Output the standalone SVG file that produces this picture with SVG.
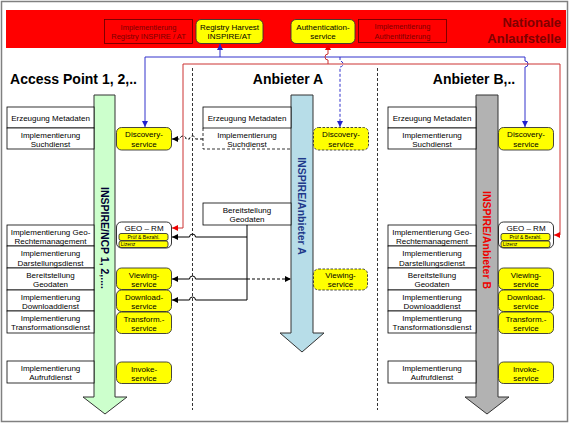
<svg xmlns="http://www.w3.org/2000/svg" width="570" height="424" viewBox="0 0 570 424">
<defs>
<style>
text{font-family:"Liberation Sans",Arial,sans-serif;}
.t{font-size:8px;text-anchor:middle;fill:#000}
.tr{font-size:7.5px;text-anchor:middle;fill:#7a0000}
.b{fill:#fff;stroke:#000;stroke-width:0.8}
.bd{fill:none;stroke:#000;stroke-width:0.8;stroke-dasharray:3,2}
.y{fill:#ffff00;stroke:#333;stroke-width:0.9}
.yd{fill:#ffff00;stroke:#333;stroke-width:0.9;stroke-dasharray:2.5,1.5}
.h{font-size:14px;font-weight:bold;text-anchor:middle;fill:#000}
.v{font-size:10.5px;font-weight:bold;text-anchor:middle}
.tiny{font-size:5px;text-anchor:middle;fill:#000}
.cb{fill:none;stroke:#000;stroke-width:1}
.cbl{fill:none;stroke:#3333cc;stroke-width:1}
.cr{fill:none;stroke:#cc3333;stroke-width:1}
.dash{stroke-dasharray:3,2}
.div{fill:none;stroke:#333;stroke-width:1;stroke-dasharray:3,2}
.arr{stroke:#333;stroke-width:1}
</style>
<marker id="mk" viewBox="0 0 6 6" refX="6" refY="3" markerWidth="6" markerHeight="6" markerUnits="userSpaceOnUse" orient="auto"><path d="M0,0 L6,3 L0,6 z" fill="#000"/></marker>
<marker id="mb" viewBox="0 0 6 6" refX="6" refY="3" markerWidth="6" markerHeight="6" markerUnits="userSpaceOnUse" orient="auto"><path d="M0,0 L6,3 L0,6 z" fill="#2222cc"/></marker>
<marker id="mr" viewBox="0 0 6 6" refX="6" refY="3" markerWidth="6" markerHeight="6" markerUnits="userSpaceOnUse" orient="auto"><path d="M0,0 L6,3 L0,6 z" fill="#ee0000"/></marker>
</defs>
<rect x="0" y="0" width="570" height="424" fill="#fff"/>
<rect x="1.5" y="1.5" width="566" height="420" fill="none" stroke="#808080" stroke-width="1.5"/>

<g id="nationale">
<rect x="6" y="10" width="560" height="38" fill="#ff0000"/>
<text x="561" y="27" font-size="13" font-weight="bold" text-anchor="end" fill="#800000">Nationale</text>
<text x="561" y="43" font-size="13" font-weight="bold" text-anchor="end" fill="#800000">Anlaufstelle</text>
</g>
<g id="impl-registry">
<rect x="104.5" y="19.5" width="88" height="24" fill="none" stroke="#600000" stroke-width="0.8"/>
<text class="tr" x="148.5" y="29.5">Implementierung</text>
<text class="tr" x="148.5" y="39">Registry INSPIRE / AT</text>
</g>
<g id="registry-harvest">
<rect class="y" x="196" y="19.5" width="67" height="24" rx="5"/>
<text class="t" x="229.5" y="29.5">Registry Harvest</text>
<text class="t" x="229.5" y="39">INSPIRE/AT</text>
</g>
<g id="authentication">
<rect class="y" x="291" y="19.5" width="64" height="24" rx="5"/>
<text class="t" x="323" y="29.5">Authentication-</text>
<text class="t" x="323" y="39">service</text>
</g>
<g id="impl-auth">
<rect x="358.5" y="19.5" width="88" height="23" fill="none" stroke="#600000" stroke-width="0.8"/>
<text class="tr" x="402.5" y="29">Implementierung</text>
<text class="tr" x="402.5" y="38.5">Authentifizierung</text>
</g>

<g id="dividers">
<line class="div" x1="192.5" y1="68" x2="192.5" y2="410"/>
<line class="div" x1="377.5" y1="68" x2="377.5" y2="410"/>
</g>

<!-- Access Point column -->
<g id="access-point">
<text class="h" x="73.5" y="84">Access Point 1, 2,..</text>
<polygon class="arr" fill="#ccffcc" points="94,95 115,95 115,397 127,397 105,414 83,397 94,397"/>
<text class="v" fill="#000033" transform="translate(105,238) rotate(90)" dy="0.35em">INSPIRE/NCP 1, 2,....</text>
</g>
<g id="ap-boxes">
<rect class="b" x="7" y="107" width="87" height="21"/><text class="t" x="50.5" y="121">Erzeugung Metadaten</text>
<rect class="b" x="7" y="128" width="87" height="21"/><text class="t" x="50.5" y="137.5">Implementierung</text><text class="t" x="50.5" y="147">Suchdienst</text>
<rect class="b" x="7" y="225" width="87" height="21"/><text class="t" x="50.5" y="234.5">Implementierung Geo-</text><text class="t" x="50.5" y="244">Rechtemanagement</text>
<rect class="b" x="7" y="246" width="87" height="22"/><text class="t" x="50.5" y="256">Implementierung</text><text class="t" x="50.5" y="265.5">Darstellungsdienst</text>
<rect class="b" x="7" y="268" width="87" height="22"/><text class="t" x="50.5" y="277.5">Bereitstellung</text><text class="t" x="50.5" y="287">Geodaten</text>
<rect class="b" x="7" y="290" width="87" height="21"/><text class="t" x="50.5" y="299.5">Implementierung</text><text class="t" x="50.5" y="309">Downloaddienst</text>
<rect class="b" x="7" y="311" width="87" height="22"/><text class="t" x="50.5" y="320.5">Implementierung</text><text class="t" x="50.5" y="330">Transformationsdienst</text>
<rect class="b" x="7" y="361" width="87" height="22"/><text class="t" x="50.5" y="370.5">Implementierung</text><text class="t" x="50.5" y="380">Aufrufdienst</text>
</g>
<g id="ap-services">
<rect class="y" x="116.5" y="127.5" width="55" height="22.5" rx="5"/><text class="t" x="144" y="137">Discovery-</text><text class="t" x="144" y="146.5">service</text>
<rect class="b" x="116.5" y="222" width="55" height="26" rx="5"/><text class="t" x="144" y="231">GEO – RM</text>
<rect class="y" x="119" y="233.5" width="49" height="7" rx="2" stroke-width="0.6"/><text class="tiny" x="143.5" y="239">Prüf &amp; Bezahl.</text>
<rect class="y" x="119" y="241" width="49" height="6.5" rx="2" stroke-width="0.6"/><text class="tiny" x="128" y="246">Lizenz</text>
<rect class="y" x="116.5" y="268" width="55" height="21.5" rx="5"/><text class="t" x="144" y="277.5">Viewing-</text><text class="t" x="144" y="286.5">service</text>
<rect class="y" x="116.5" y="290" width="55" height="21.5" rx="5"/><text class="t" x="144" y="299.5">Download-</text><text class="t" x="144" y="308.5">service</text>
<rect class="y" x="116.5" y="312" width="55" height="21.5" rx="5"/><text class="t" x="144" y="321.5">Transform.-</text><text class="t" x="144" y="330.5">service</text>
<rect class="y" x="116.5" y="362" width="55" height="21.5" rx="5"/><text class="t" x="144" y="371.5">Invoke-</text><text class="t" x="144" y="380.5">service</text>
</g>

<!-- Anbieter A column -->
<g id="anbieter-a">
<text class="h" x="288" y="84">Anbieter A</text>
<polygon class="arr" fill="#b7dde8" points="291,95 313,95 313,333 324,333 302,352 280,333 291,333"/>
<text class="v" fill="#1f3a8a" transform="translate(302,206) rotate(90)" dy="0.35em">INSPIRE/Anbieter A</text>
</g>
<g id="a-boxes">
<rect class="b" x="203" y="107" width="88" height="21"/><text class="t" x="247" y="121">Erzeugung Metadaten</text>
<path class="bd" d="M203,128 V149 H291"/><text class="t" x="247" y="137.5">Implementierung</text><text class="t" x="247" y="147">Suchdienst</text>
<rect class="b" x="203" y="203" width="88" height="22"/><text class="t" x="247" y="212.5">Bereitstellung</text><text class="t" x="247" y="222">Geodaten</text>
</g>
<g id="a-services">
<rect class="yd" x="313.5" y="127.5" width="55" height="22.5" rx="5"/><text class="t" x="341" y="137">Discovery-</text><text class="t" x="341" y="146.5">service</text>
<rect class="yd" x="313.5" y="269" width="54" height="21" rx="5"/><text class="t" x="340.5" y="278">Viewing-</text><text class="t" x="340.5" y="287">service</text>
</g>

<!-- Anbieter B column -->
<g id="anbieter-b">
<text class="h" x="474" y="84">Anbieter B,..</text>
<polygon class="arr" fill="#b2b2b2" points="476,95 498,95 498,397 509,397 487,414 465,397 476,397"/>
<text class="v" fill="#ee0000" transform="translate(487,240) rotate(90)" dy="0.35em">INSPIRE/Anbieter B</text>
</g>
<g id="b-boxes">
<rect class="b" x="388" y="107" width="88" height="21"/><text class="t" x="432" y="121">Erzeugung Metadaten</text>
<rect class="b" x="388" y="128" width="88" height="21"/><text class="t" x="432" y="137.5">Implementierung</text><text class="t" x="432" y="147">Suchdienst</text>
<rect class="b" x="388" y="225" width="88" height="21"/><text class="t" x="432" y="234.5">Implementierung Geo-</text><text class="t" x="432" y="244">Rechtemanagement</text>
<rect class="b" x="388" y="246" width="88" height="22"/><text class="t" x="432" y="256">Implementierung</text><text class="t" x="432" y="265.5">Darstellungsdienst</text>
<rect class="b" x="388" y="268" width="88" height="22"/><text class="t" x="432" y="277.5">Bereitstellung</text><text class="t" x="432" y="287">Geodaten</text>
<rect class="b" x="388" y="290" width="88" height="21"/><text class="t" x="432" y="299.5">Implementierung</text><text class="t" x="432" y="309">Downloaddienst</text>
<rect class="b" x="388" y="311" width="88" height="22"/><text class="t" x="432" y="320.5">Implementierung</text><text class="t" x="432" y="330">Transformationsdienst</text>
<rect class="b" x="388" y="361" width="88" height="22"/><text class="t" x="432" y="370.5">Implementierung</text><text class="t" x="432" y="380">Aufrufdienst</text>
</g>
<g id="b-services">
<rect class="y" x="498.5" y="127.5" width="55" height="22.5" rx="5"/><text class="t" x="526" y="137">Discovery-</text><text class="t" x="526" y="146.5">service</text>
<rect class="b" x="498.5" y="222" width="55" height="26" rx="5"/><text class="t" x="526" y="231">GEO – RM</text>
<rect class="y" x="501" y="233.5" width="49" height="7" rx="2" stroke-width="0.6"/><text class="tiny" x="525.5" y="239">Prüf &amp; Bezahl.</text>
<rect class="y" x="501" y="241" width="49" height="6.5" rx="2" stroke-width="0.6"/><text class="tiny" x="510" y="246">Lizenz</text>
<rect class="y" x="498.5" y="268" width="55" height="21.5" rx="5"/><text class="t" x="526" y="277.5">Viewing-</text><text class="t" x="526" y="286.5">service</text>
<rect class="y" x="498.5" y="290" width="55" height="21.5" rx="5"/><text class="t" x="526" y="299.5">Download-</text><text class="t" x="526" y="308.5">service</text>
<rect class="y" x="498.5" y="312" width="55" height="21.5" rx="5"/><text class="t" x="526" y="321.5">Transform.-</text><text class="t" x="526" y="330.5">service</text>
<rect class="y" x="498.5" y="362" width="55" height="21.5" rx="5"/><text class="t" x="526" y="371.5">Invoke-</text><text class="t" x="526" y="380.5">service</text>
</g>

<g id="connectors">
<!-- blue discovery distribution -->
<path class="cbl" d="M145,57 H525"/>
<path class="cbl" d="M220,57 V44" marker-end="url(#mb)"/>
<path class="cbl" d="M145,57 V127" marker-end="url(#mb)"/>
<path class="cbl dash" d="M340,57 V61 a3,3 0 0 1 0,6 V127" marker-end="url(#mb)"/>
<path class="cbl" d="M525,57 V61 a3,3 0 0 1 0,6 V127" marker-end="url(#mb)"/>
<!-- red authentication / rights -->
<path class="cr" d="M328,64 V60 a3,3 0 0 1 0,-6 V44" marker-end="url(#mr)"/>
<path class="cr" d="M183,64 H560 V235 H554" marker-end="url(#mr)"/>
<path class="cr" d="M183,64 V228 H172" marker-end="url(#mr)"/>
<!-- discovery from Anbieter A -->
<path class="cb dash" d="M203,139 H195.5 a3,3 0 0 0 -6,0 H186 a3,3 0 0 0 -6,0 H172" marker-end="url(#mk)"/>
<!-- Bereitstellung Geodaten of Anbieter A -->
<path class="cb" d="M247,225 V300"/>
<path class="cb" d="M247,237 H195.5 a3,3 0 0 0 -6,0 H172" marker-end="url(#mk)"/>
<path class="cb" d="M247,279 H195.5 a3,3 0 0 0 -6,0 H172" marker-end="url(#mk)"/>
<path class="cb" d="M247,300 H195.5 a3,3 0 0 0 -6,0 H172" marker-end="url(#mk)"/>
<path class="cb dash" d="M247,279 H291" marker-end="url(#mk)"/>
</g>
</svg>
